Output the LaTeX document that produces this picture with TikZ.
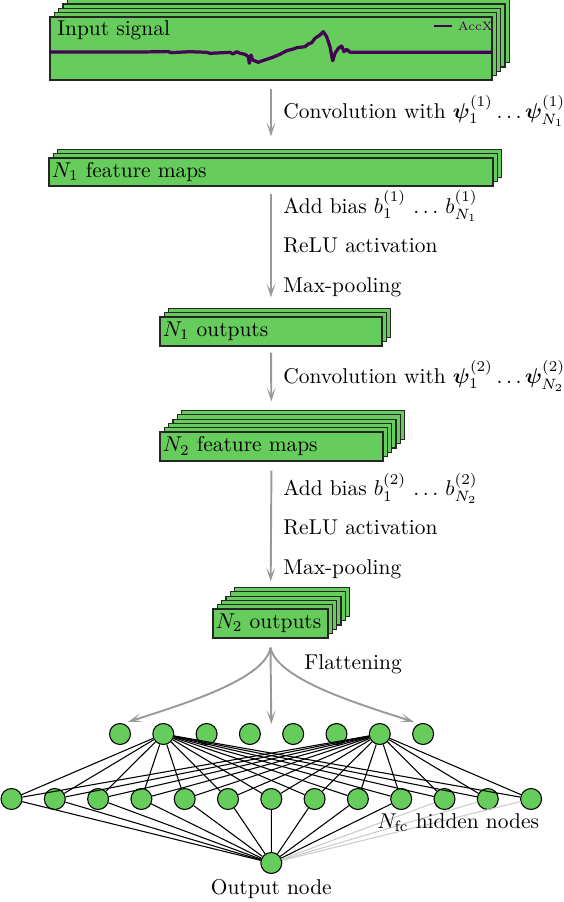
\documentclass[tikz,border=0pt]{standalone}
\usepackage{amsmath}
\usepackage{bm}
\usetikzlibrary{arrows,arrows.meta,calc,positioning}
\definecolor{mapgreen}{RGB}{102,204,92}
\definecolor{sigpurple}{RGB}{68,1,84}
\tikzstyle{neuron}=[draw,shape=circle,fill=mapgreen,line width=0.5pt,minimum size=9.8pt,inner sep=0pt]
\tikzstyle{mapbox}=[draw=black!85,fill=mapgreen,line width=0.6pt,shape=rectangle,inner sep=0pt]
\tikzstyle{flow}=[draw=black!40,line width=0.9pt,-{Stealth[length=6.5pt,width=4.2pt,inset=3.5pt]}]
\tikzstyle{lbl}=[draw=none,shape=rectangle,inner sep=0pt]
\tikzstyle{wire}=[line width=0.5pt]

\begin{document}
\begin{tikzpicture}[x=0.467pt,y=0.467pt]
\useasboundingbox (0,0) rectangle (564,-902);

\foreach \i in {4,...,1}
\node[mapbox,minimum width=206.4pt,minimum height=29.4pt](in\i) at (271+\i*4.3,-48.5+\i*4.3){};
\node[mapbox,minimum width=206.4pt,minimum height=29.4pt](in) at (271,-48.5){};
\node[lbl,anchor=west](intxt) at (57,-30){Input signal};
\draw[sigpurple,line width=1.5pt,line join=round] (50,-52) -- (140,-52) -- (168,-51.6) -- (171,-52.6)
 -- (190,-51.7) -- (206.7,-52.3) -- (210,-53.3) -- (230,-52.3) -- (233,-54) -- (236.7,-51.7)
 -- (240,-53.3) -- (245,-54.3) -- (248.3,-56.7) -- (249.3,-63.3) -- (251,-55) -- (252.7,-60)
 -- (258.3,-62.3) -- (261.7,-61) -- (271.7,-57.7) -- (280,-54.3) -- (286.7,-50.7) -- (293.3,-49)
 -- (296.7,-47.7) -- (305,-46.7) -- (308.3,-44) -- (311.7,-42.7) -- (315,-38.3) -- (320,-35)
 -- (323.3,-31.7) -- (326.7,-36.7) -- (330,-46.7) -- (332.7,-60.7) -- (335,-53.3) -- (338.3,-48.3)
 -- (341.7,-46) -- (344,-51.7) -- (346.7,-49.3) -- (350,-52.3) -- (492,-52.3);
\draw[sigpurple,line width=0.9pt] (434,-25.7) -- (452,-25.7)
node[lbl,anchor=west,xshift=2.3pt](leg){\fontsize{5.7}{6}\selectfont AccX};

\foreach \i in {2,1}
\node[mapbox,minimum width=207.3pt,minimum height=13.1pt](fm1\i) at (271+\i*4.3,-172+\i*4.3){};
\node[mapbox,minimum width=207.3pt,minimum height=13.1pt](fm1) at (271,-172){};
\node[lbl,anchor=west](fm1txt) at ($(fm1.west)+(3,0)$){$N_1$ feature maps};

\foreach \i in {2,1}
\node[mapbox,minimum width=103.7pt,minimum height=13.5pt](out1\i) at (271+\i*4.3,-331.5+\i*4.3){};
\node[mapbox,minimum width=103.7pt,minimum height=13.5pt](out1) at (271,-331.5){};
\node[lbl,anchor=west](out1txt) at ($(out1.west)+(3,0)$){$N_1$ outputs};

\foreach \i in {5,...,1}
\node[mapbox,minimum width=104.1pt,minimum height=13.5pt](fm2\i) at (271.5+\i*4.3,-446.5+\i*4.3){};
\node[mapbox,minimum width=104.1pt,minimum height=13.5pt](fm2) at (271.5,-446.5){};
\node[lbl,anchor=west](fm2txt) at ($(fm2.west)+(3,0)$){$N_2$ feature maps};

\foreach \i in {5,...,1}
\node[mapbox,minimum width=53.7pt,minimum height=13.5pt](out2\i) at (270.5+\i*4.3,-623.5+\i*4.3){};
\node[mapbox,minimum width=53.7pt,minimum height=13.5pt](out2) at (270.5,-623.5){};
\node[lbl,anchor=west](out2txt) at ($(out2.west)+(3,0)$){$N_2$ outputs};

\draw[flow,shorten <=3.7pt,shorten >=9.8pt] (in.south) -- (fm1.north);
\draw[flow,shorten <=3.3pt,shorten >=8.9pt] (fm1.south) -- (out1.north);
\draw[flow,shorten <=2.8pt,shorten >=14pt] (out1.south) -- (fm2.north);
\draw[flow,shorten <=4.2pt,shorten >=12.6pt] (fm2.south) -- (out2.north);

\node[lbl,anchor=base west](conv1) at (283,-118){Convolution with $\bm{\psi}_1^{(1)}\ldots\bm{\psi}_{N_1}^{(1)}$};
\node[lbl,anchor=base west](bias1) at (283,-213){Add bias $b_1^{(1)}\,\ldots\,b_{N_1}^{(1)}$};
\node[lbl,anchor=base west](relu1) at (283,-252.5){ReLU activation};
\node[lbl,anchor=base west](pool1) at (283,-292){Max-pooling};
\node[lbl,anchor=base west](conv2) at (283,-383){Convolution with $\bm{\psi}_1^{(2)}\ldots\bm{\psi}_{N_2}^{(2)}$};
\node[lbl,anchor=base west](bias2) at (283,-495.5){Add bias $b_1^{(2)}\,\ldots\,b_{N_2}^{(2)}$};
\node[lbl,anchor=base west](relu2) at (283,-534.5){ReLU activation};
\node[lbl,anchor=base west](pool2) at (283,-574){Max-pooling};
\node[lbl,anchor=base west](flat) at (304,-669){Flattening};

\foreach \i in {1,...,8}
\node[neuron](t\i) at (120+\i*43.3-43.3,-734){};
\foreach \j in {1,...,13}
\node[neuron](h\j) at (11.5+\j*43.3-43.3,-799){};
\node[neuron](o) at (271.3,-863){};

\coordinate (fl) at ($(out2.south)+(0,-9)$);
\coordinate (fll) at (128,-722);
\coordinate (flm) at (271.3,-724);
\coordinate (flr) at (414,-722);
\draw[flow] (fl) .. controls (265,-680) and (180,-705) .. (fll);
\draw[flow] (fl) -- (flm);
\draw[flow] (fl) .. controls (277,-680) and (362,-705) .. (flr);

\foreach \j in {1,...,13}{
\draw[wire] (t2) -- (h\j);
\draw[wire] (t7) -- (h\j);
}
\foreach \j in {1,...,10}
\draw[wire] (h\j) -- (o);
\foreach \j in {11,12,13}
\draw[wire,black!20] (h\j) -- (o);

\node[lbl,anchor=base west](nfc) at (377,-828){$N_{\mathrm{fc}}$ hidden nodes};
\node[lbl,anchor=base](outtxt) at (271.3,-894){Output node};

\end{tikzpicture}
\end{document}
